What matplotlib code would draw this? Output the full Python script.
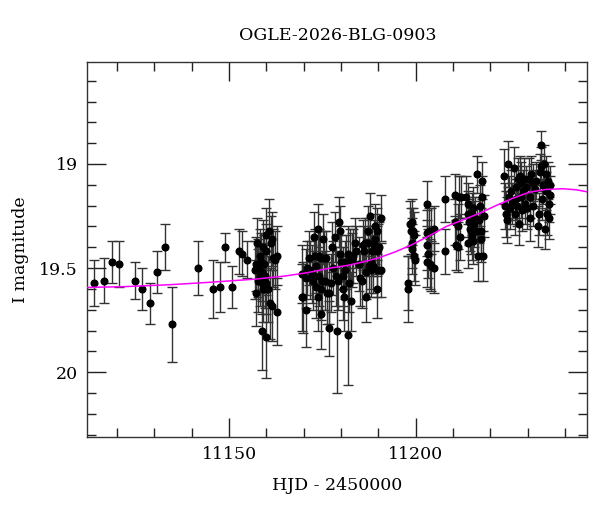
import numpy as np
import matplotlib
matplotlib.use('Agg')
import matplotlib.pyplot as plt
from matplotlib.ticker import MultipleLocator

plt.rcParams['font.family'] = ['DejaVu Serif']

#-------------------------------------------------------------------------
# photometry (HJD - 2450000, I mag, error)
#-------------------------------------------------------------------------
hjd0 = [11113.8, 11116.6, 11118.7, 11120.6, 11124.7, 11126.7, 11128.8, 11130.7, 11132.8, 11134.7,
        11141.7, 11145.6, 11147.6, 11148.8, 11150.7, 11152.6, 11153.5, 11154.8]
mag0 = [19.57, 19.56, 19.47, 19.48, 19.56, 19.60, 19.67, 19.52, 19.40, 19.77,
        19.50, 19.60, 19.59, 19.40, 19.59, 19.42, 19.43, 19.46]
err0 = [0.11, 0.11, 0.10, 0.11, 0.09, 0.10, 0.10, 0.10, 0.11, 0.18,
        0.13, 0.14, 0.12, 0.07, 0.10, 0.11, 0.11, 0.09]

hjd1 = [11157.2, 11156.9, 11157.5, 11157.8, 11157.8, 11157.3, 11158.2, 11158.2, 11158.5, 11158.7,
        11158.9, 11158.7, 11159.1, 11159.1, 11159.3, 11159.6, 11159.8, 11159.8, 11159.8, 11160.0,
        11160.5, 11160.7, 11160.9, 11161.1, 11161.4, 11161.6, 11161.8, 11162.2, 11162.7, 11162.9]
mag1 = [19.48, 19.51, 19.38, 19.50, 19.56, 19.62, 19.44, 19.54, 19.47, 19.57,
        19.52, 19.80, 19.40, 19.60, 19.48, 19.54, 19.42, 19.57, 19.83, 19.34,
        19.60, 19.32, 19.67, 19.38, 19.68, 19.36, 19.45, 19.46, 19.44, 19.71]
err1 = [0.13, 0.14, 0.12, 0.14, 0.15, 0.16, 0.13, 0.14, 0.14, 0.15,
        0.14, 0.19, 0.13, 0.16, 0.14, 0.15, 0.13, 0.15, 0.20, 0.13,
        0.16, 0.15, 0.17, 0.13, 0.17, 0.13, 0.14, 0.14, 0.14, 0.16]

hjd2 = [11169.6, 11169.6, 11169.8, 11170.5, 11170.5, 11170.9, 11171.4, 11171.6, 11172.1, 11172.5,
        11172.7, 11173.0, 11173.2, 11173.4, 11173.8, 11173.8, 11174.1, 11174.1, 11174.3, 11174.5,
        11174.7, 11175.0, 11175.2, 11175.4, 11175.6, 11175.9, 11176.1, 11176.8, 11176.8, 11177.4,
        11177.7, 11177.9, 11178.3, 11178.6, 11178.8, 11179.2, 11179.5, 11179.7, 11179.8, 11180.1,
        11180.4, 11180.5, 11180.7, 11181.0, 11181.4, 11181.9, 11181.9, 11182.2]
mag2 = [19.53, 19.64, 19.64, 19.55, 19.70, 19.50, 19.45, 19.51, 19.53, 19.56,
        19.35, 19.44, 19.59, 19.49, 19.31, 19.64, 19.44, 19.54, 19.45, 19.60,
        19.72, 19.56, 19.36, 19.45, 19.56, 19.45, 19.62, 19.62, 19.79, 19.57,
        19.40, 19.50, 19.35, 19.54, 19.80, 19.56, 19.28, 19.43, 19.32, 19.47,
        19.54, 19.60, 19.64, 19.51, 19.47, 19.43, 19.82, 19.57]
err2 = [0.14, 0.16, 0.17, 0.14, 0.18, 0.13, 0.13, 0.14, 0.14, 0.14,
        0.12, 0.13, 0.15, 0.13, 0.12, 0.16, 0.13, 0.14, 0.13, 0.15,
        0.17, 0.14, 0.12, 0.13, 0.14, 0.13, 0.15, 0.15, 0.13, 0.14,
        0.12, 0.13, 0.12, 0.14, 0.30, 0.14, 0.12, 0.13, 0.12, 0.13,
        0.14, 0.15, 0.16, 0.14, 0.13, 0.13, 0.24, 0.14]

hjd3 = [11182.3, 11182.6, 11182.8, 11183.2, 11183.7, 11184.1, 11184.7, 11185.0, 11185.5, 11185.9,
        11186.2, 11186.4, 11186.8, 11186.8, 11187.1, 11187.2, 11187.4, 11187.7, 11188.0, 11188.1,
        11188.3, 11188.6, 11188.8, 11189.0, 11189.2, 11189.5, 11189.5, 11189.7, 11189.7, 11189.9,
        11190.1, 11190.6, 11190.8]
mag3 = [19.44, 19.66, 19.46, 19.44, 19.38, 19.42, 19.48, 19.55, 19.56, 19.39,
        19.42, 19.38, 19.52, 19.64, 19.32, 19.38, 19.49, 19.25, 19.47, 19.51,
        19.42, 19.49, 19.39, 19.36, 19.30, 19.32, 19.42, 19.51, 19.60, 19.41,
        19.40, 19.51, 19.26]
err3 = [0.13, 0.14, 0.13, 0.13, 0.12, 0.12, 0.13, 0.13, 0.13, 0.12,
        0.12, 0.12, 0.13, 0.12, 0.12, 0.12, 0.13, 0.11, 0.13, 0.13,
        0.12, 0.13, 0.12, 0.12, 0.11, 0.11, 0.12, 0.13, 0.14, 0.12,
        0.12, 0.13, 0.11]

hjd4 = [11197.8, 11197.8, 11198.4, 11198.7, 11198.9, 11199.0, 11199.3, 11199.6, 11199.0, 11199.6,
        11199.9, 11202.9, 11202.9, 11202.9, 11203.1, 11203.3, 11203.5, 11203.8, 11204.0, 11204.2,
        11204.9, 11204.9, 11207.8, 11207.8, 11210.6, 11210.6, 11210.9, 11211.2, 11211.4, 11211.5,
        11211.8, 11212.1, 11213.6, 11213.9, 11213.9, 11213.9, 11214.2, 11214.5, 11214.8, 11215.0,
        11215.1, 11215.4, 11215.4, 11215.6, 11215.8, 11216.3, 11216.5, 11216.7, 11216.9, 11217.2,
        11217.4, 11217.6, 11217.8, 11217.8, 11218.0, 11218.3]
mag4 = [19.57, 19.60, 19.29, 19.32, 19.28, 19.38, 19.32, 19.34, 19.41, 19.44,
        19.46, 19.19, 19.39, 19.47, 19.33, 19.43, 19.32, 19.48, 19.32, 19.49,
        19.31, 19.50, 19.17, 19.42, 19.15, 19.28, 19.39, 19.30, 19.40, 19.16,
        19.35, 19.16, 19.16, 19.19, 19.24, 19.38, 19.28, 19.31, 19.32, 19.35,
        19.24, 19.21, 19.37, 19.29, 19.26, 19.32, 19.05, 19.44, 19.27, 19.20,
        19.36, 19.32, 19.08, 19.16, 19.44, 19.25]
err4 = [0.13, 0.16, 0.11, 0.11, 0.11, 0.12, 0.11, 0.11, 0.12, 0.12,
        0.12, 0.11, 0.12, 0.12, 0.11, 0.12, 0.11, 0.12, 0.11, 0.12,
        0.11, 0.12, 0.11, 0.11, 0.10, 0.11, 0.12, 0.11, 0.12, 0.10,
        0.11, 0.10, 0.10, 0.10, 0.11, 0.12, 0.11, 0.11, 0.11, 0.11,
        0.10, 0.10, 0.11, 0.11, 0.10, 0.11, 0.09, 0.12, 0.11, 0.10,
        0.11, 0.11, 0.09, 0.10, 0.12, 0.10]

hjd5 = [11223.6, 11223.9, 11224.3, 11224.5, 11224.7, 11225.0, 11225.2, 11225.6, 11225.9, 11226.3,
        11226.5, 11226.8, 11227.0, 11227.2, 11227.4, 11227.7, 11227.9, 11228.1, 11228.3, 11228.6,
        11228.8, 11229.0, 11229.2, 11229.5, 11229.8, 11230.4, 11230.6, 11230.7, 11231.0, 11231.3,
        11231.4, 11231.9, 11232.3, 11232.8, 11233.1, 11233.4, 11233.7, 11233.7, 11233.9, 11234.1,
        11234.3, 11234.6, 11234.8, 11235.0, 11235.2, 11235.5, 11235.7, 11235.9, 11235.7, 11236.1]
mag5 = [19.06, 19.20, 19.24, 19.27, 19.00, 19.16, 19.21, 19.13, 19.19, 19.02,
        19.24, 19.17, 19.11, 19.20, 19.07, 19.29, 19.06, 19.16, 19.09, 19.22,
        19.13, 19.07, 19.19, 19.11, 19.21, 19.07, 19.26, 19.16, 19.05, 19.09,
        19.20, 19.12, 19.08, 19.30, 19.24, 19.04, 18.91, 19.01, 19.17, 19.10,
        19.00, 19.31, 19.13, 19.05, 19.24, 19.08, 19.19, 19.15, 19.26, 19.10]
err5 = [0.13, 0.11, 0.11, 0.11, 0.11, 0.10, 0.10, 0.10, 0.10, 0.10,
        0.10, 0.10, 0.10, 0.10, 0.10, 0.10, 0.10, 0.10, 0.10, 0.10,
        0.10, 0.10, 0.10, 0.10, 0.10, 0.10, 0.11, 0.10, 0.09, 0.09,
        0.10, 0.09, 0.09, 0.10, 0.10, 0.09, 0.07, 0.09, 0.10, 0.09,
        0.09, 0.10, 0.09, 0.09, 0.10, 0.09, 0.09, 0.09, 0.10, 0.09]

# model light curve (magenta)
model_hjd = [11112.0, 11122.0, 11134.0, 11145.0, 11157.0, 11165.0, 11171.0, 11177.0, 11182.0, 11186.0,
             11190.4, 11194.8, 11199.3, 11203.8, 11208.2, 11212.7, 11217.2, 11221.6, 11226.1, 11230.5,
             11235.0, 11239.5, 11243.0, 11246.0]
model_mag = [19.593, 19.589, 19.580, 19.568, 19.553, 19.538, 19.522, 19.500, 19.486, 19.470,
             19.449, 19.420, 19.385, 19.343, 19.300, 19.268, 19.236, 19.199, 19.164, 19.135,
             19.122, 19.119, 19.124, 19.134]

title = 'OGLE-2026-BLG-0903'

hjd = np.concatenate([hjd0, hjd1, hjd2, hjd3, hjd4, hjd5])
mag = np.concatenate([mag0, mag1, mag2, mag3, mag4, mag5])
err = np.concatenate([err0, err1, err2, err3, err4, err5])

fig = plt.figure(figsize=(6.0, 5.12), dpi=100)
ax = fig.add_axes([0.1455, 0.147, 0.8335, 0.732])

ax.errorbar(hjd, mag, yerr=err, fmt='none', ecolor='#333333', elinewidth=1.0,
            capsize=3.5, capthick=1.0, zorder=2)
ax.plot(hjd, mag, 'o', color='black', markersize=4.8, zorder=3)
ax.plot(model_hjd, model_mag, color='#ff00ff', linewidth=1.1, zorder=4)

ax.set_xlim(11112, 11246)
ax.set_ylim(20.31, 18.51)

ax.xaxis.set_major_locator(MultipleLocator(50))
ax.xaxis.set_minor_locator(MultipleLocator(10))
ax.yaxis.set_major_locator(MultipleLocator(0.5))
ax.yaxis.set_minor_locator(MultipleLocator(0.1))
ax.yaxis.set_major_formatter(plt.FuncFormatter(lambda v, p: f'{v:g}'))

ax.tick_params(which='both', direction='in', top=True, right=True, color='#222222')
ax.tick_params(which='major', length=13.5, width=1.0, pad=7, labelsize=12.5)
ax.tick_params(which='minor', length=6.5, width=1.0)
for s in ax.spines.values():
    s.set_linewidth(1.0)
    s.set_color('#333333')

ax.set_title(title, fontsize=12.5, pad=16)
ax.set_xlabel('HJD - 2450000', fontsize=12.5, labelpad=10)
ax.set_ylabel('I magnitude', fontsize=12.5, labelpad=7)

fig.savefig('out.png', dpi=100)
